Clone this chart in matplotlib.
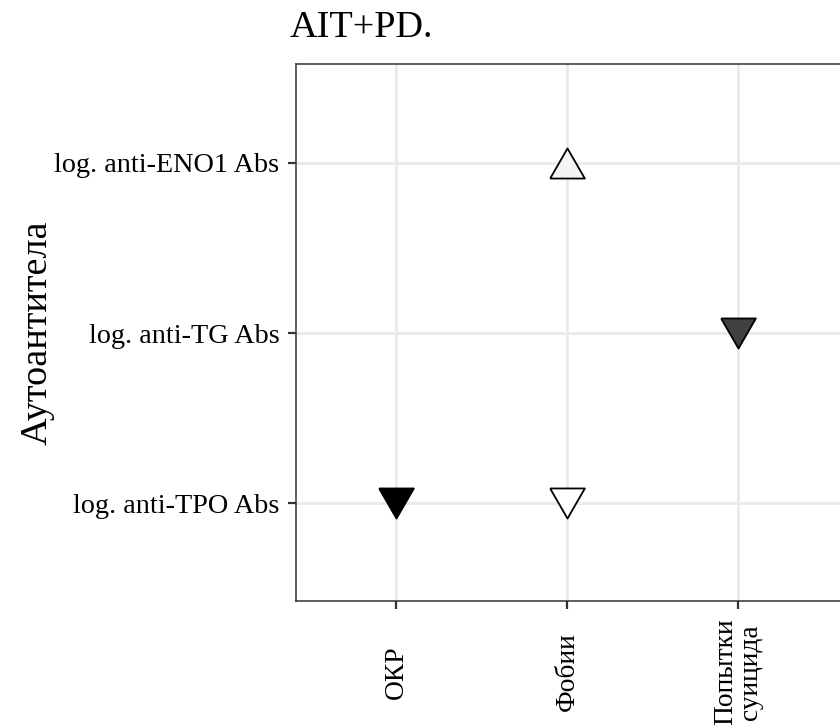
import numpy as np
import matplotlib
matplotlib.use("Agg")
import matplotlib.pyplot as plt

plt.rcParams['font.family'] = ['Liberation Serif', 'DejaVu Serif']

# ---- data ----
x_categories = ['ОКР', 'Фобии', 'Попытки\nсуицида']
y_categories = ['log. anti-TPO Abs', 'log. anti-TG Abs', 'log. anti-ENO1 Abs']

point_x = ['ОКР', 'Фобии', 'Фобии', 'Попытки\nсуицида']
point_y = ['log. anti-TPO Abs', 'log. anti-TPO Abs', 'log. anti-ENO1 Abs', 'log. anti-TG Abs']
point_sign = [-1, -1, 1, -1]          # direction of association
point_shade = [0.0, 1.0, 0.96, 0.25]  # fill intensity (gray scale)

title_text = 'AIT+PD.'
y_title = 'Аутоантитела'

# ---- figure ----
W, H, DPI = 840, 728, 100
fig = plt.figure(figsize=(W / DPI, H / DPI), dpi=DPI)

left_px, right_px, top_px, bottom_px = 296, 1009, 64, 601
ax = fig.add_axes([left_px / W, 1 - bottom_px / H,
                   (right_px - left_px) / W, (bottom_px - top_px) / H])

xi = {c: i + 1 for i, c in enumerate(x_categories)}
yi = {c: i + 1 for i, c in enumerate(y_categories)}

s = np.sqrt(3) / 2
down_tri = [(-1, s), (1, s), (0, -s), (-1, s)]
up_tri = [(-1, -s), (1, -s), (0, s), (-1, -s)]

cmap = matplotlib.colormaps['gray']
for px, py, sg, sh in zip(point_x, point_y, point_sign, point_shade):
    ax.plot(xi[px], yi[py], linestyle='none',
            marker=up_tri if sg > 0 else down_tri,
            markersize=25, markerfacecolor=cmap(sh),
            markeredgecolor='black', markeredgewidth=1.3, zorder=3)

ax.set_xlim(0.415, 4.585)
ax.set_ylim(0.424, 3.582)

ax.set_xticks(range(1, len(x_categories) + 1))
ax.set_xticklabels(x_categories, rotation=90, fontsize=19.8,
                   ha='center', va='center', linespacing=0.95)
ax.set_yticks(range(1, len(y_categories) + 1))
ax.set_yticklabels(y_categories, fontsize=20.3)

ax.grid(True, color='#ebebeb', linewidth=2.1, zorder=0)
ax.set_axisbelow(True)
for sp in ax.spines.values():
    sp.set_color('#333333')
    sp.set_linewidth(1.1)
ax.tick_params(axis='both', colors='#333333', length=6, width=1.6,
               labelcolor='black')
ax.tick_params(axis='x', pad=45)
ax.tick_params(axis='y', pad=6)

ax.set_ylabel(y_title, fontsize=27.5, labelpad=0)

fig.text(290 / W, 1 - 37 / H, title_text, fontsize=27.5, ha='left',
         va='baseline')

fig.savefig('out.png', dpi=DPI)
